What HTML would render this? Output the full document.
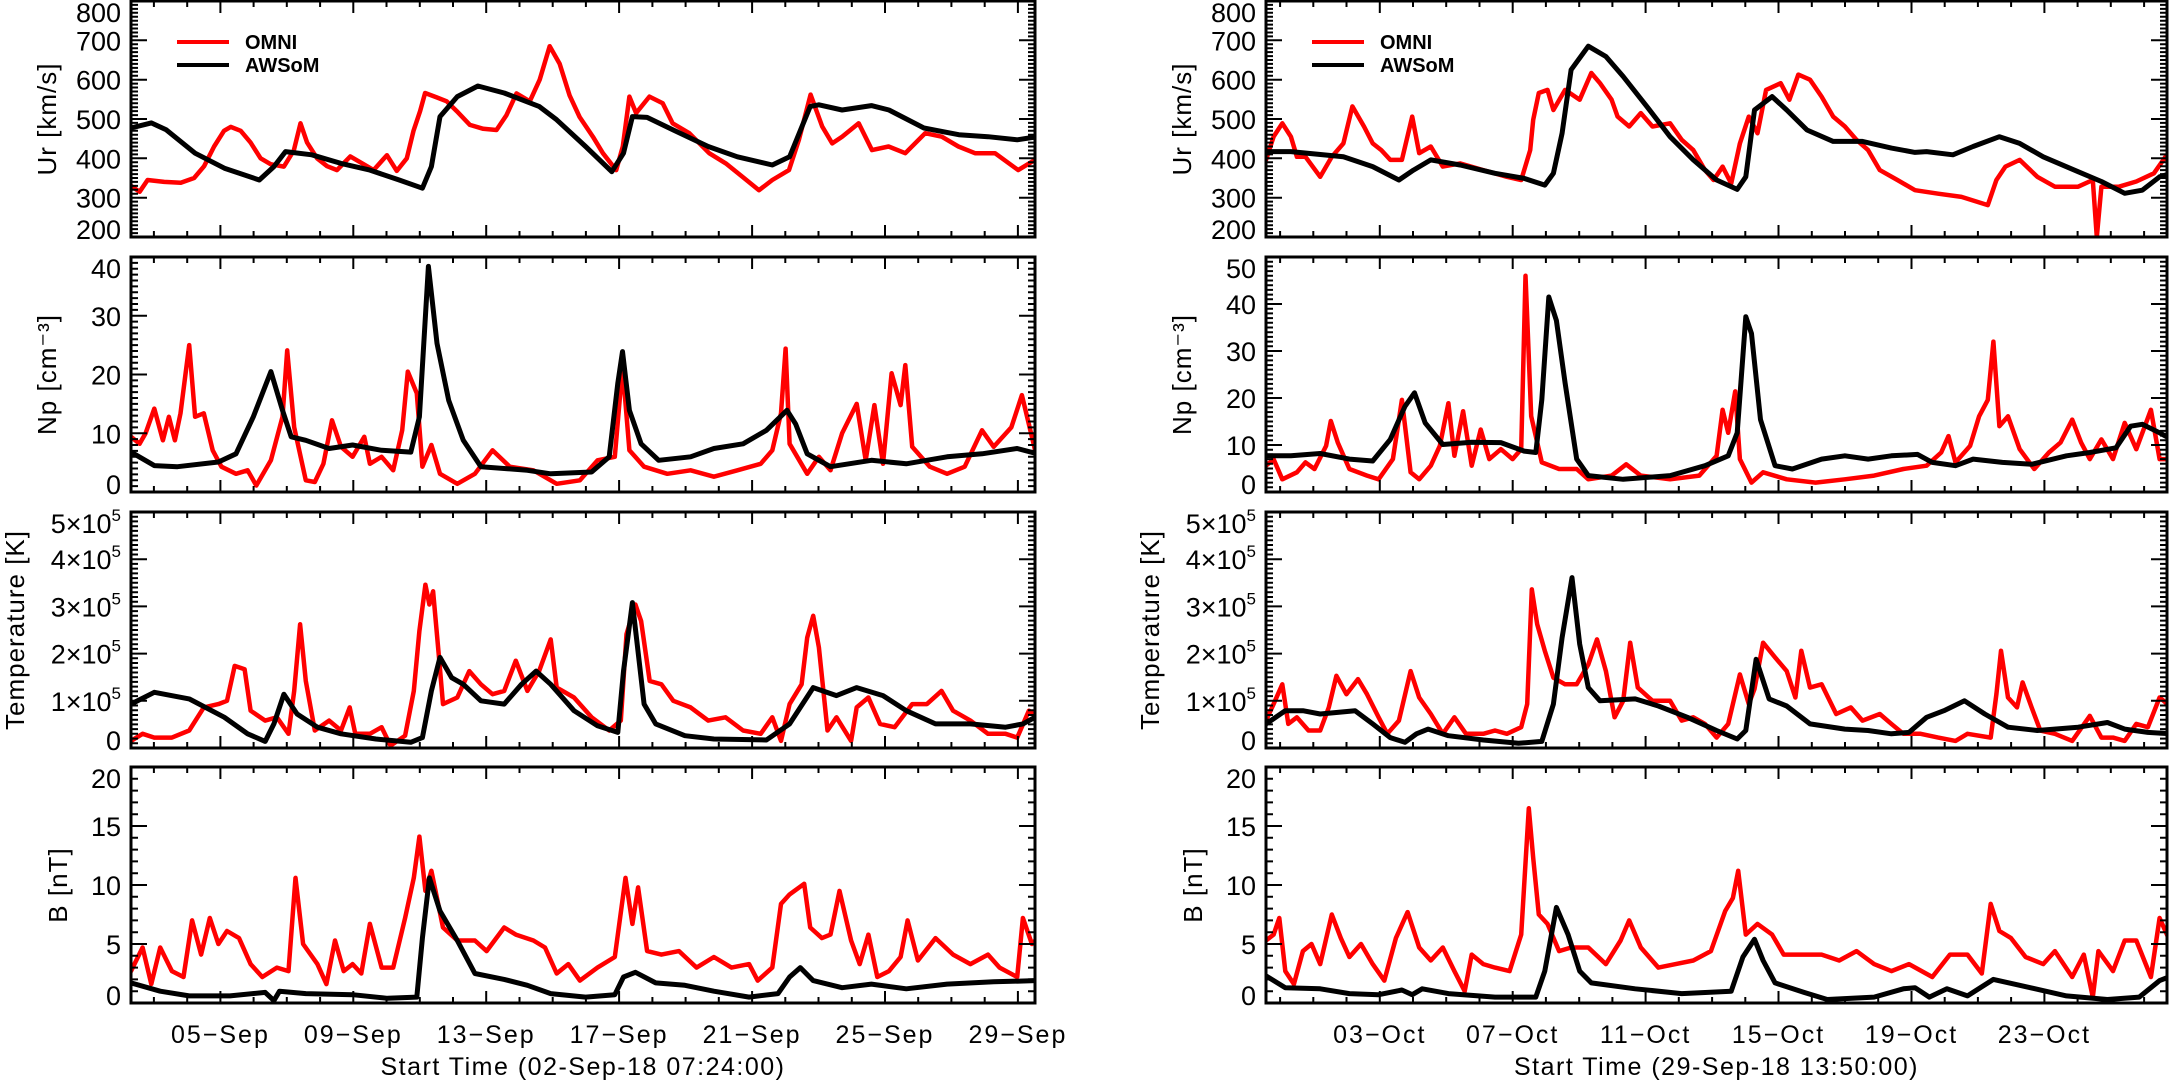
<!DOCTYPE html>
<html><head><meta charset="utf-8"><title>OMNI vs AWSoM</title>
<style>
html,body{margin:0;padding:0;background:#fff;}
svg{display:block;font-family:"Liberation Sans",sans-serif;}
</style></head>
<body>
<svg id="chart" width="2170" height="1081" viewBox="0 0 2170 1081" xmlns="http://www.w3.org/2000/svg"></svg>
<script>
// ---------- tick labels ----------
const urTicks=[200,300,400,500,600,700,800];
const npLeftTicks=[0,10,20,30,40];
const npRightTicks=[0,10,20,30,40,50];
const tTicks=[0,1,2,3,4,5];
const bTicks=[0,5,10,15,20];
const dateLabelsLeft=['05−Sep','09−Sep','13−Sep','17−Sep','21−Sep','25−Sep','29−Sep'];
const dateLabelsRight=['03−Oct','07−Oct','11−Oct','15−Oct','19−Oct','23−Oct'];
const firstMidnightLeft=0.69, firstMidnightRight=0.424;
const firstLabelLeft=2.69, firstLabelRight=3.424;

// ---------- LEFT: Ur ----------
const urLOmniT=[0,0.26,0.5,1,1.5,1.9,2.2,2.5,2.8,3.0,3.3,3.6,3.9,4.2,4.6,4.9,5.1,5.3,5.6,5.9,6.2,6.6,7.0,7.3,7.7,8.0,8.3,8.5,8.7,8.85,9.2,9.5,9.8,10.2,10.6,11.0,11.3,11.6,12.0,12.3,12.6,12.9,13.2,13.5,13.9,14.2,14.6,14.8,15.0,15.2,15.6,16.0,16.3,16.8,17.4,17.9,18.4,18.9,19.3,19.8,20.1,20.45,20.8,21.1,21.4,21.9,22.3,22.8,23.3,23.9,24.4,24.9,25.4,26.0,26.7,27.2];
const urLOmniV=[330,315,345,340,338,350,380,430,470,480,470,440,400,385,379,420,489,440,400,380,370,405,385,370,408,368,400,470,520,566,555,545,520,485,475,472,510,565,545,600,685,640,560,505,455,413,370,430,557,515,557,540,489,464,413,387,353,319,345,370,447,562,481,438,455,489,421,430,413,464,455,430,413,413,370,396];
const urLAwsT=[0,0.61,1.05,1.93,2.81,3.86,4.3,4.65,5.44,6.32,7.19,8.07,8.77,9.04,9.3,9.82,10.44,11.23,12.28,12.81,13.68,14.47,14.82,15.09,15.53,16.32,17.37,18.25,19.3,19.82,20.44,20.7,21.4,22.28,22.81,23.86,24.91,25.79,26.67,27.28];
const urLAwsV=[477,490,473,413,375,345,379,417,409,387,370,345,324,379,506,557,584,566,532,498,430,366,413,506,504,472,430,404,383,404,532,536,523,534,523,477,460,455,447,455];

// ---------- LEFT: Np ----------
const npLOmniT=[0,0.26,0.44,0.70,0.96,1.14,1.32,1.49,1.75,1.93,2.19,2.46,2.72,3.16,3.51,3.77,4.21,4.56,4.70,4.91,5.26,5.53,5.79,6.05,6.32,6.67,7.02,7.19,7.54,7.89,8.16,8.33,8.60,8.77,9.04,9.30,9.82,10.35,10.88,11.40,12.11,12.81,13.51,14.04,14.56,14.79,15.0,15.44,16.14,16.84,17.54,18.25,18.95,19.30,19.56,19.70,19.82,20.35,20.70,21.05,21.40,21.84,22.11,22.37,22.63,22.89,23.16,23.30,23.51,24.04,24.56,25.09,25.61,25.96,26.49,26.81,27.11,27.28];
const npLOmniV=[9.4,8.2,10,14.2,8.8,12.8,8.8,13.4,25,12.8,13.4,7.1,4.3,3.1,3.7,1.1,5.4,12.8,24.1,11,2,1.7,4.8,12.2,7.7,6,9.4,4.8,6,3.7,10.5,20.5,16.8,4.3,8,3.1,1.4,3.1,7.1,4.3,3.7,1.4,2,5.4,6,21.3,7.1,4.3,3.1,3.7,2.6,3.7,4.8,7.1,13.4,24.4,8.2,3.1,6,3.7,10,15,5.4,14.8,4.8,20.2,14.8,21.6,7.7,4.3,3.1,4.3,10.5,7.7,11,16.5,9.4,5.4];
const npLAwsT=[0,0.70,1.40,2.63,3.16,3.68,4.21,4.56,4.82,5.26,5.96,6.67,7.54,8.42,8.68,8.95,9.21,9.56,10.0,10.53,11.93,12.63,13.86,14.39,14.65,14.79,15.0,15.35,15.88,16.84,17.54,18.42,19.12,19.74,20.0,20.35,21.05,22.28,23.33,24.56,25.61,26.67,27.28];
const npLAwsV=[6.8,4.5,4.3,5.1,6.5,12.8,20.5,13.9,9.4,8.8,7.4,8,7.1,6.8,12.8,38.4,25.3,15.6,8.8,4.3,3.7,3.1,3.4,6,18.5,23.9,13.9,8.2,5.4,6,7.4,8.2,10.5,13.9,11.6,6.5,4.3,5.4,4.8,6,6.5,7.4,6.5];

// ---------- LEFT: Temperature (x1e5 K) ----------
const tLOmniT=[0,0.35,0.70,1.23,1.75,2.19,2.63,2.89,3.12,3.42,3.60,4.04,4.39,4.74,4.91,5.09,5.26,5.53,5.96,6.32,6.58,6.75,7.19,7.54,7.81,8.25,8.51,8.68,8.86,8.98,9.09,9.26,9.39,9.82,10.18,10.53,10.88,11.23,11.58,11.93,12.28,12.63,12.81,13.33,13.86,14.39,14.74,14.91,15.18,15.35,15.61,15.96,16.32,16.84,17.37,17.89,18.42,18.95,19.30,19.56,19.82,20.18,20.35,20.53,20.70,20.96,21.23,21.67,21.84,22.19,22.54,22.98,23.51,23.95,24.39,24.74,25.26,25.79,26.32,26.67,27.02,27.28];
const tLOmniV=[0.15,0.3,0.22,0.22,0.37,0.86,0.93,1.0,1.74,1.67,0.79,0.58,0.65,0.3,1.21,2.62,1.42,0.37,0.58,0.37,0.86,0.3,0.3,0.44,0.05,0.26,1.21,2.48,3.46,3.04,3.32,1.99,0.93,1.07,1.63,1.35,1.14,1.21,1.85,1.21,1.63,2.3,1.28,1.07,0.65,0.37,0.58,2.41,3.04,2.69,1.42,1.35,1.0,0.86,0.58,0.65,0.37,0.3,0.65,0.15,0.93,1.35,2.34,2.8,2.13,0.37,0.65,0.15,0.86,1.07,0.51,0.44,0.93,0.93,1.21,0.79,0.58,0.3,0.3,0.22,0.79,0.65];
const tLAwsT=[0,0.70,1.75,2.81,3.51,4.04,4.30,4.60,5.0,5.61,6.32,7.37,8.42,8.77,9.04,9.30,9.65,10.0,10.53,11.23,11.75,12.19,12.63,13.33,14.04,14.65,14.82,15.09,15.44,15.79,16.67,17.54,19.12,19.82,20.53,21.23,21.84,22.63,23.33,24.21,25.26,26.32,26.84,27.28];
const tLAwsV=[0.93,1.18,1.04,0.65,0.3,0.14,0.51,1.14,0.72,0.44,0.3,0.19,0.12,0.22,1.21,1.92,1.49,1.35,1.0,0.93,1.35,1.63,1.35,0.79,0.47,0.33,1.63,3.08,0.93,0.51,0.26,0.19,0.17,0.51,1.28,1.11,1.28,1.11,0.79,0.51,0.51,0.44,0.51,0.68];

// ---------- LEFT: B ----------
const bLOmniT=[0,0.35,0.61,0.88,1.23,1.58,1.84,2.11,2.37,2.63,2.89,3.25,3.60,3.95,4.39,4.74,4.95,5.18,5.61,5.88,6.14,6.40,6.67,6.93,7.19,7.54,7.89,8.25,8.51,8.68,8.86,9.04,9.39,9.82,10.35,10.70,11.23,11.58,12.11,12.46,12.81,13.16,13.51,14.04,14.56,14.88,15.09,15.26,15.53,15.96,16.49,17.02,17.54,18.07,18.60,18.86,19.30,19.56,19.82,20.26,20.44,20.79,21.05,21.32,21.67,21.93,22.19,22.46,22.81,23.16,23.37,23.68,24.21,24.74,25.26,25.79,26.14,26.67,26.84,27.11,27.28];
const bLOmniV=[2.7,4.7,1.6,4.7,2.7,2.2,7,4.1,7.2,5,6.1,5.5,3.3,2.2,3,2.7,10.6,5,3.3,1.6,5.3,2.7,3.3,2.5,6.7,3,3,7.2,10.6,14.1,9.5,11.2,6.4,5.3,5.3,4.4,6.4,5.8,5.3,4.7,2.5,3.3,1.9,3,3.9,10.6,6.7,9.8,4.4,4.1,4.4,3,3.9,3,3.3,1.9,3,8.4,9.2,10.1,6.4,5.5,5.8,9.5,5.3,3.3,5.8,2.2,2.7,3.9,7,3.6,5.5,4.1,3.3,4.1,3,2.2,7.2,5,5.5];
const bLAwsT=[0,0.88,1.75,2.98,4.04,4.30,4.47,5.26,6.67,7.72,8.60,8.77,8.98,9.30,9.82,10.35,11.23,11.93,12.63,13.68,14.56,14.82,15.18,15.79,16.67,17.54,18.60,19.47,19.82,20.14,20.53,21.40,22.28,23.33,24.56,25.96,27.28];
const bLAwsV=[1.7,1.0,0.6,0.6,0.9,0.2,1.0,0.8,0.7,0.4,0.5,5.5,10.6,7.8,5.3,2.5,2,1.5,0.8,0.5,0.7,2.2,2.6,1.7,1.5,1.0,0.5,0.8,2.2,3,1.9,1.3,1.6,1.2,1.6,1.8,1.9];

// ---------- RIGHT: Ur ----------
const urROmniT=[0,0.23,0.49,0.75,0.93,1.19,1.63,1.98,2.33,2.60,2.95,3.21,3.47,3.74,4.09,4.40,4.61,4.96,5.32,5.84,6.54,7.25,7.68,7.95,8.04,8.21,8.47,8.65,9.0,9.44,9.79,10.05,10.40,10.58,10.93,11.28,11.63,12.16,12.51,12.86,13.21,13.47,13.74,14.0,14.26,14.53,14.79,15.05,15.49,15.75,16.02,16.37,16.72,17.07,17.42,17.77,18.12,18.47,19.0,19.53,20.23,20.93,21.72,21.98,22.25,22.68,23.21,23.74,24.44,24.88,25.0,25.14,25.67,26.19,26.72,27.07,27.25];
const urROmniV=[396,455,489,455,404,404,353,404,438,532,481,438,421,396,396,506,413,430,379,387,370,353,345,421,498,566,574,523,574,549,617,591,549,506,481,515,481,489,447,421,370,345,379,336,438,506,464,574,591,549,613,600,557,506,481,447,421,370,345,319,310,302,281,345,379,396,353,328,328,345,200,328,328,341,362,404,396];
const urRAwsT=[0,0.75,2.33,3.21,4.0,4.44,4.96,5.84,6.89,7.77,8.39,8.65,8.91,9.18,9.70,10.23,10.75,11.46,12.16,12.86,13.56,14.18,14.44,14.70,15.23,15.67,16.28,17.07,17.95,18.82,19.53,19.88,20.67,21.28,22.07,22.68,23.39,24.44,25.14,25.84,26.37,26.89,27.25];
const urRAwsV=[417,417,404,379,345,370,396,383,362,349,332,362,464,625,685,659,608,532,455,396,345,321,353,523,557,523,472,443,443,426,415,417,409,430,455,438,404,366,341,311,319,353,362];

// ---------- RIGHT: Np ----------
const npROmniT=[0,0.23,0.49,0.93,1.19,1.46,1.81,1.95,2.16,2.51,3.04,3.39,3.82,4.09,4.35,4.61,4.96,5.23,5.49,5.67,5.93,6.19,6.46,6.72,7.07,7.42,7.68,7.81,7.98,8.30,8.82,9.35,9.70,10.40,10.84,11.28,12.16,13.04,13.56,13.74,13.91,14.12,14.26,14.61,14.96,15.67,16.54,17.42,18.30,19.18,19.88,20.32,20.54,20.75,21.19,21.46,21.72,21.89,22.07,22.33,22.68,23.12,23.56,23.91,24.26,24.53,24.79,25.14,25.49,25.84,26.19,26.63,26.89,27.25];
const npROmniV=[5.6,7,2.7,4.2,6.3,4.9,9.8,15.1,10.5,4.9,3.5,2.7,7,19.6,4.2,2.7,5.6,9.8,18.9,7.7,17.2,5.6,13.3,7,9.1,7,9.1,46,16.1,6.3,4.9,4.9,2.7,3.5,5.9,3.5,2.7,3.5,7.7,17.5,12.6,21.4,7,2,4.2,2.7,2,2.7,3.5,4.9,5.6,8.4,11.9,6.3,9.8,16.1,19.6,32,14,16.1,9.1,4.9,8.4,10.5,15.4,10.5,7,11.2,7,14.7,9.1,17.5,7,7];
const npRAwsT=[0,0.75,1.63,2.51,3.21,3.74,4.18,4.47,4.79,5.32,6.19,7.07,7.77,8.12,8.30,8.51,8.74,9.0,9.35,9.70,10.75,12.16,13.21,13.91,14.18,14.44,14.61,14.88,15.32,15.84,16.72,17.42,18.12,18.82,19.61,20.05,20.75,21.28,22.16,23.04,24.09,24.79,25.58,26.02,26.37,26.89,27.25];
const npRAwsV=[7.7,7.7,8.2,7,6.6,11.2,18.2,21.1,14.7,10.1,10.6,10.5,8.7,8.4,19.6,41.5,36.5,23.2,7,3.5,2.7,3.5,5.6,7.7,12.6,37.3,33.7,15.4,5.6,4.9,7,7.7,7,7.7,8,6.3,5.6,7,6.3,5.9,7.7,8.4,9.4,14,14.4,12.6,11.2];

// ---------- RIGHT: Temperature (x1e5 K) ----------
const tROmniT=[0,0.23,0.49,0.67,0.93,1.28,1.63,1.89,2.12,2.42,2.77,3.04,3.39,3.65,4.0,4.35,4.61,4.96,5.32,5.67,6.02,6.54,6.89,7.25,7.68,7.86,8.0,8.16,8.39,8.65,9.0,9.35,9.70,9.96,10.23,10.49,10.75,10.96,11.19,11.63,12.16,12.51,12.86,13.21,13.56,13.91,14.26,14.53,14.70,14.96,15.32,15.67,15.93,16.11,16.37,16.72,17.16,17.60,17.95,18.47,18.82,19.18,19.70,20.23,20.75,21.11,21.81,21.98,22.12,22.33,22.60,22.77,23.04,23.30,23.74,24.26,24.79,25.14,25.49,25.84,26.19,26.54,26.89,27.25];
const tROmniV=[0.58,0.93,1.35,0.51,0.65,0.37,0.37,0.86,1.53,1.14,1.46,1.14,0.65,0.3,0.58,1.63,1.07,0.72,0.3,0.65,0.3,0.3,0.37,0.3,0.44,0.93,3.36,2.62,2.06,1.49,1.35,1.35,1.77,2.3,1.63,0.65,1.0,2.23,1.28,1.0,1.0,0.58,0.65,0.51,0.22,0.51,1.56,0.93,1.25,2.23,1.92,1.63,1.07,2.06,1.28,1.35,0.72,0.86,0.58,0.72,0.51,0.3,0.3,0.22,0.15,0.3,0.22,1.14,2.06,1.07,0.86,1.39,0.86,0.37,0.3,0.15,0.68,0.22,0.22,0.15,0.51,0.44,1.07,0.86];
const tRAwsT=[0,0.58,1.11,1.63,2.68,3.21,3.74,4.18,4.53,4.88,5.49,6.54,7.60,8.30,8.65,8.91,9.21,9.44,9.70,10.05,11.11,11.81,12.68,13.56,14.18,14.44,14.75,15.14,15.67,16.37,17.42,18.12,18.82,19.35,19.88,20.40,21.02,21.63,22.33,23.21,24.44,25.32,25.84,26.54,27.25];
const tRAwsV=[0.51,0.79,0.79,0.72,0.79,0.51,0.22,0.12,0.3,0.4,0.26,0.17,0.1,0.14,0.93,2.34,3.61,2.2,1.28,1.0,1.04,0.89,0.65,0.37,0.19,0.37,1.88,1.04,0.89,0.51,0.4,0.37,0.3,0.33,0.65,0.79,1.0,0.72,0.44,0.37,0.44,0.54,0.4,0.33,0.3];

// ---------- RIGHT: B ----------
const bROmniT=[0,0.23,0.40,0.58,0.84,1.11,1.37,1.63,1.98,2.25,2.51,2.86,3.21,3.56,3.91,4.26,4.61,4.96,5.32,5.67,5.98,6.19,6.54,6.89,7.33,7.68,7.91,8.04,8.21,8.47,8.82,9.18,9.70,10.23,10.67,10.93,11.28,11.81,12.33,12.86,13.39,13.82,14.05,14.21,14.44,14.79,15.23,15.58,16.19,16.72,17.25,17.77,18.30,18.82,19.35,20.05,20.58,21.11,21.54,21.81,22.07,22.42,22.86,23.39,23.74,24.26,24.61,24.88,25.05,25.49,25.84,26.19,26.63,26.89,27.16];
const bROmniV=[5.3,5.8,7.2,2.7,1.6,4.4,5,3.3,7.5,5.5,3.9,5,3.3,1.9,5.5,7.7,4.7,3.6,4.7,2.7,1,4.1,3.3,3,2.7,5.8,16.5,12.3,7.5,6.7,4.4,4.7,4.7,3.3,5.3,7,4.7,3,3.3,3.6,4.4,7.8,8.9,11.2,5.8,6.7,5.8,4.1,4.1,4.1,3.6,4.4,3.3,2.7,3.3,2.2,4.1,4.1,2.5,8.4,6.1,5.5,3.9,3.3,4.4,2.2,4.1,0.5,4.4,2.7,5.3,5.3,2.2,7.2,5.5];
const bRAwsT=[0,0.58,1.63,2.51,3.39,4.09,4.40,4.70,5.49,6.89,8.12,8.39,8.74,9.09,9.44,9.79,11.11,12.51,14.0,14.35,14.70,14.96,15.32,16.19,16.89,18.30,19.18,19.53,19.96,20.49,21.11,21.89,22.68,24.09,25.32,26.28,26.89,27.25];
const bRAwsV=[2.3,1.3,1.2,0.8,0.7,1.1,0.7,1.2,0.8,0.5,0.5,2.7,8.1,5.8,2.7,1.7,1.2,0.8,1.0,3.9,5.4,3.6,1.7,0.9,0.3,0.5,1.2,1.3,0.5,1.2,0.6,2,1.5,0.6,0.3,0.5,1.9,2.3];

// ---------- layout ----------
const NS='http://www.w3.org/2000/svg';
const svg=document.getElementById('chart');
const PPD=33.23;
const rows=[{top:1,bot:237},{top:257,bot:492},{top:512,bot:748},{top:767,bot:1003}];
const cols=[{x0:131,x1:1035,first:firstMidnightLeft,firstLab:firstLabelLeft,labels:dateLabelsLeft,title:'Start Time (02-Sep-18 07:24:00)',side:'left'},
            {x0:1266,x1:2167,first:firstMidnightRight,firstLab:firstLabelRight,labels:dateLabelsRight,title:'Start Time (29-Sep-18 13:50:00)',side:'right'}];

function el(tag,attrs,parent){const e=document.createElementNS(NS,tag);for(const k in attrs)e.setAttribute(k,attrs[k]);(parent||svg).appendChild(e);return e;}

function xScale(col){return t=>col.x0+t*PPD;}
function yScale(row,min,max){return v=>row.bot-(v-min)/(max-min)*(row.bot-row.top);}

function drawLine(g,ts,vs,xs,ys,color,w,name){
  const n=Math.min(ts.length,vs.length);
  let d='';
  for(let i=0;i<n;i++){d+=(i?'L':'M')+xs(ts[i]).toFixed(1)+' '+ys(vs[i]).toFixed(1);}
  const p=el('path',{d:d,fill:'none',stroke:color,'stroke-width':w,'stroke-linejoin':'round','stroke-linecap':'round'},g);
  
  
}

function drawPanel(ci,ri,cfg){
  const col=cols[ci],row=rows[ri];
  const g=el('g',{});
  
  
  const xs=xScale(col),ys=yScale(row,cfg.min,cfg.max);
  const cid='clip'+ci+ri;
  const cp=el('clipPath',{id:cid},g);
  el('rect',{x:col.x0,y:row.top,width:col.x1-col.x0,height:row.bot-row.top},cp);
  const lines=el('g',{'clip-path':'url(#'+cid+')'},g);
  
  
  drawLine(lines,cfg.omniT,cfg.omniV,xs,ys,'#ff0000',4.5,col.side+'-'+cfg.key+'-omni-line');
  drawLine(lines,cfg.awsT,cfg.awsV,xs,ys,'#000000',5,col.side+'-'+cfg.key+'-awsom-line');
  const fr=el('rect',{x:col.x0,y:row.top,width:col.x1-col.x0,height:row.bot-row.top,fill:'none',stroke:'#000','stroke-width':3},g);
  
  
  const yt=el('g',{stroke:'#000','stroke-width':2},g);
  
  
  let d='';
  const nMinor=Math.round((cfg.max-cfg.min)/cfg.minor);
  for(let i=0;i<=nMinor;i++){const y=ys(cfg.min+i*cfg.minor).toFixed(1);d+='M'+col.x0+' '+y+'h7M'+col.x1+' '+y+'h-7';}
  cfg.ticks.forEach(v=>{const y=ys(v).toFixed(1);d+='M'+col.x0+' '+y+'h16M'+col.x1+' '+y+'h-16';});
  el('path',{d:d,fill:'none'},yt);
  const yl=el('g',{'font-size':27,'text-anchor':'end',fill:'#000'},g);
  
  
  cfg.ticks.forEach((v,i)=>{
    let y=ys(v);
    if(i===cfg.ticks.length-1)y+=11; else if(i===0)y-=8;
    const t=el('text',{x:col.x0-10,y:(y+10).toFixed(1)},yl);
    if(cfg.sci&&v!==0){t.textContent=v+'×10';const s=el('tspan',{dy:-12,'font-size':17},t);s.textContent='5';}
    else t.textContent=String(v);
  });
  const tx=col.x0-cfg.titleOff,ty=(row.top+row.bot)/2;
  const tt=el('text',{x:tx,y:ty,'font-size':26,'text-anchor':'middle',transform:'rotate(-90 '+tx+' '+ty+')','letter-spacing':1},g);
  tt.textContent=cfg.title;
  
  
  const xt=el('g',{stroke:'#000','stroke-width':2},g);
  
  
  let dx='';
  for(let t=col.first;xs(t)<col.x1;t+=1){const x=xs(t).toFixed(1);dx+='M'+x+' '+row.bot+'v-6M'+x+' '+row.top+'v6';}
  for(let t=col.firstLab;xs(t)<col.x1;t+=4){const x=xs(t).toFixed(1);dx+='M'+x+' '+row.bot+'v-12M'+x+' '+row.top+'v12';}
  el('path',{d:dx,fill:'none'},xt);
}

const panels=[
 [{key:'ur',min:200,max:800,minor:10,ticks:urTicks,title:'Ur [km/s]',titleOff:75,omniT:urLOmniT,omniV:urLOmniV,awsT:urLAwsT,awsV:urLAwsV},
  {key:'np',min:0,max:40,minor:1,ticks:npLeftTicks,title:'Np [cm⁻³]',titleOff:75,omniT:npLOmniT,omniV:npLOmniV,awsT:npLAwsT,awsV:npLAwsV},
  {key:'temp',min:0,max:5,minor:0.1,ticks:tTicks,sci:true,title:'Temperature [K]',titleOff:107,omniT:tLOmniT,omniV:tLOmniV,awsT:tLAwsT,awsV:tLAwsV},
  {key:'b',min:0,max:20,minor:1,ticks:bTicks,title:'B [nT]',titleOff:64,omniT:bLOmniT,omniV:bLOmniV,awsT:bLAwsT,awsV:bLAwsV}],
 [{key:'ur',min:200,max:800,minor:10,ticks:urTicks,title:'Ur [km/s]',titleOff:75,omniT:urROmniT,omniV:urROmniV,awsT:urRAwsT,awsV:urRAwsV},
  {key:'np',min:0,max:50,minor:1,ticks:npRightTicks,title:'Np [cm⁻³]',titleOff:75,omniT:npROmniT,omniV:npROmniV,awsT:npRAwsT,awsV:npRAwsV},
  {key:'temp',min:0,max:5,minor:0.1,ticks:tTicks,sci:true,title:'Temperature [K]',titleOff:107,omniT:tROmniT,omniV:tROmniV,awsT:tRAwsT,awsV:tRAwsV},
  {key:'b',min:0,max:20,minor:1,ticks:bTicks,title:'B [nT]',titleOff:64,omniT:bROmniT,omniV:bROmniV,awsT:bRAwsT,awsV:bRAwsV}]
];
panels.forEach((col,ci)=>col.forEach((cfg,ri)=>drawPanel(ci,ri,cfg)));

cols.forEach((col,ci)=>{
  const xs=xScale(col);
  const g=el('g',{'font-size':25,'text-anchor':'middle','letter-spacing':2},svg);
  
  
  col.labels.forEach((lab,i)=>{const t=el('text',{x:xs(col.firstLab+4*i).toFixed(1),y:1043},g);t.textContent=lab;});
  const tt=el('text',{x:(col.x0+col.x1)/2,y:1075,'font-size':25,'text-anchor':'middle','letter-spacing':1.5},svg);
  tt.textContent=col.title;
  
  
  const lg=el('g',{},svg);
  
  
  const lx=col.x0+46;
  const e1=el('g',{},lg);
  
  
  el('line',{x1:lx,y1:42,x2:lx+52,y2:42,stroke:'#ff0000','stroke-width':4},e1);
  const t1=el('text',{x:lx+68,y:49,'font-size':20,'font-weight':'bold'},e1);t1.textContent='OMNI';
  const e2=el('g',{},lg);
  
  
  el('line',{x1:lx,y1:65,x2:lx+52,y2:65,stroke:'#000','stroke-width':4},e2);
  const t2=el('text',{x:lx+68,y:72,'font-size':20,'font-weight':'bold'},e2);t2.textContent='AWSoM';
});
</script>
</body></html>
